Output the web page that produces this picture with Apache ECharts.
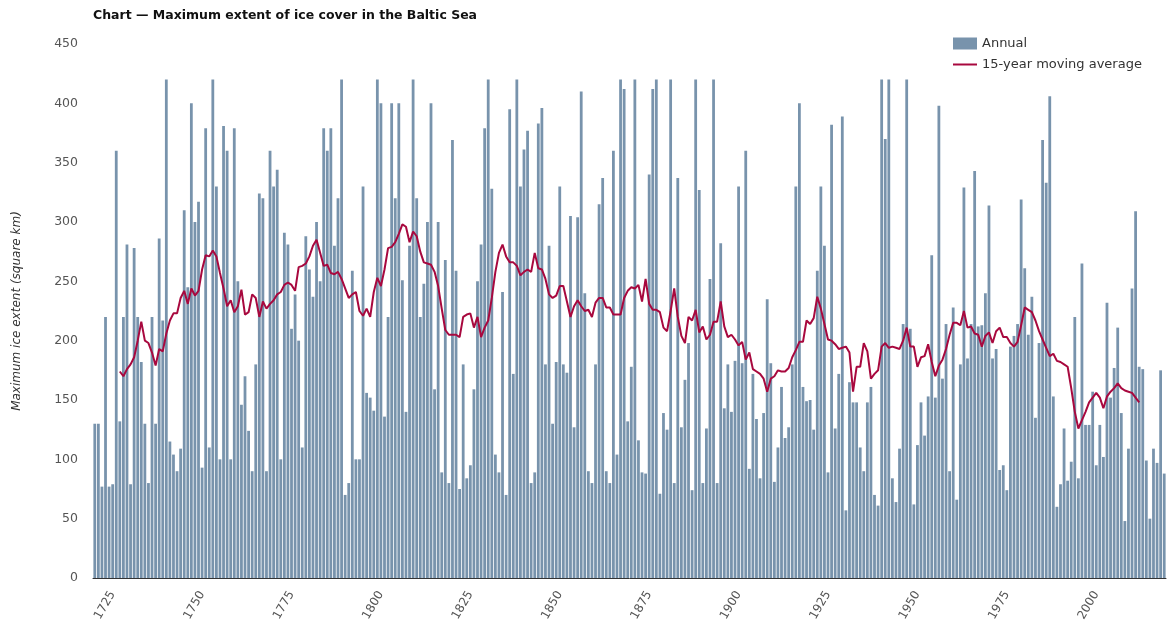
<!DOCTYPE html>
<html>
<head>
<meta charset="utf-8">
<script src="https://cdn.jsdelivr.net/npm/echarts@6/dist/echarts.min.js"></script>
<style>
html,body{margin:0;padding:0;background:#fff;}
#chart{width:1171px;height:628px;}
</style>
</head>
<body>
<div id="chart"></div>
<script>
const firstYear = 1720;
const annual = [
 130,130,77,220,77,79,360,132,220,281,
 79,278,220,182,130,80,220,130,286,217,
 420,115,104,90,109,310,245,400,300,317,
 93,379,110,420,330,100,381,360,100,379,
 250,146,170,124,90,180,324,320,90,360,
 330,344,100,291,281,210,239,200,110,288,
 260,237,300,250,379,360,379,280,320,420,
 70,80,259,100,100,330,156,152,141,420,
 400,136,220,400,320,400,251,140,280,420,
 320,220,248,300,400,159,300,89,268,80,
 369,259,75,180,84,95,159,250,281,379,
 420,328,104,89,241,70,395,172,420,330,
 361,377,80,89,383,396,180,280,130,182,
 330,180,173,305,127,304,410,240,90,80,
 180,315,337,90,80,360,104,420,412,132,
 178,420,116,89,88,340,412,420,71,139,
 125,420,80,337,127,167,198,74,420,327,
 80,126,252,420,80,282,143,180,140,183,
 330,181,360,92,172,134,84,139,235,181,
 81,110,161,118,127,180,330,400,161,149,
 150,125,259,330,280,89,382,126,172,389,
 57,165,148,148,110,90,148,161,70,61,
 420,370,420,84,64,109,214,420,210,62,
 112,148,120,153,272,152,398,168,214,90,
 228,66,180,329,185,214,343,212,213,240,
 314,185,193,91,95,74,195,204,214,319,
 261,205,237,135,198,369,333,406,153,60,
 79,126,82,98,220,84,265,129,129,157,
 95,129,102,232,152,177,211,139,48,109,
 244,309,178,176,99,50,109,97,175,88
];
const maStartYear = 1727;
const movingAverage = [
 174,170,176,180,186,200,216,200,198,190,
 179,193,191,206,217,223,223,236,242,231,
 244,238,242,260,272,271,276,271,257,244,
 229,234,224,229,243,222,224,239,236,220,
 233,227,231,234,239,241,247,249,247,242,
 262,263,265,271,280,285,274,263,264,257,
 256,258,252,244,236,239,241,225,221,227,
 220,241,253,246,260,278,279,283,290,298,
 296,283,292,288,275,266,265,264,258,246,
 227,209,205,205,205,203,220,222,223,211,
 220,203,211,217,236,258,274,281,271,266,
 266,263,255,258,260,258,274,261,260,252,
 239,236,238,246,246,233,220,229,234,229,
 225,226,220,232,236,236,228,228,222,222,
 222,236,242,245,244,247,233,252,231,226,
 226,224,211,208,225,244,220,204,198,220,
 217,226,207,212,201,205,216,216,233,212,
 203,205,201,196,199,184,190,176,174,172,
 168,157,168,170,175,174,174,177,186,192,
 199,199,217,214,219,237,227,214,201,200,
 197,193,194,195,190,157,178,178,198,191,
 168,172,175,195,198,194,195,194,193,200,
 211,195,195,178,186,187,197,182,170,179,
 184,193,205,215,215,213,225,211,212,206,
 205,195,204,207,198,208,211,203,203,198,
 195,199,213,228,226,224,217,208,201,194,
 187,189,183,182,180,178,160,140,126,133,
 140,148,152,156,152,143,153,157,160,164,
 160,158,157,156,152,148
];
const yTicks = {min: 0, max: 450, interval: 50};

const years = annual.map((_, i) => String(firstYear + i));
const maSeries = years.map(y => {
  const k = Number(y) - maStartYear;
  return (k >= 0 && k < movingAverage.length) ? movingAverage[k] : null;
});

const chart = echarts.init(document.getElementById('chart'), null, {renderer: 'canvas'});
chart.setOption({
  animation: false,
  backgroundColor: '#ffffff',
  title: {
    text: 'Chart \u2014 Maximum extent of ice cover in the Baltic Sea',
    left: 93, top: 9, padding: 0,
    textStyle: {fontFamily: 'DejaVu Sans', fontWeight: 'bold', fontSize: 12.5, color: '#111'}
  },
  legend: {
    orient: 'vertical', left: 953, top: 37, padding: 0,
    itemWidth: 24, itemHeight: 12, itemGap: 8,
    textStyle: {fontFamily: 'DejaVu Sans', fontSize: 13, color: '#333'},
    data: [
      {name: 'Annual', icon: 'rect'},
      {name: '15-year moving average', icon: 'path://M0,0L24,0L24,2L0,2Z'}
    ]
  },
  grid: {left: 93, right: 5, top: 44, bottom: 50, containLabel: false},
  xAxis: {
    type: 'category', data: years, boundaryGap: true,
    axisTick: {show: false},
    axisLine: {lineStyle: {color: '#333', width: 1}},
    axisLabel: {
      interval: (idx, val) => Number(val) % 25 === 0,
      rotate: 60, margin: 14,
      fontFamily: 'DejaVu Sans', fontSize: 12, color: '#555'
    },
    splitLine: {show: false}
  },
  yAxis: {
    type: 'value', min: yTicks.min, max: yTicks.max, interval: yTicks.interval,
    name: 'Maximum ice extent (square km)', nameLocation: 'middle', nameGap: 70,
    nameTextStyle: {fontFamily: 'DejaVu Sans', fontStyle: 'italic', fontSize: 12, color: '#333'},
    axisLine: {show: false}, axisTick: {show: false},
    axisLabel: {fontFamily: 'DejaVu Sans', fontSize: 12.5, color: '#555', margin: 15},
    splitLine: {show: false}
  },
  series: [
    {
      name: 'Annual', type: 'bar', data: annual,
      barCategoryGap: '22%',
      itemStyle: {color: '#7893ac'},
      emphasis: {disabled: true}
    },
    {
      name: '15-year moving average', type: 'line', data: maSeries,
      symbol: 'none', showSymbol: false, connectNulls: false,
      lineStyle: {color: '#a8083e', width: 2},
      itemStyle: {color: '#a8083e'},
      emphasis: {disabled: true}
    }
  ]
});
</script>
</body>
</html>
